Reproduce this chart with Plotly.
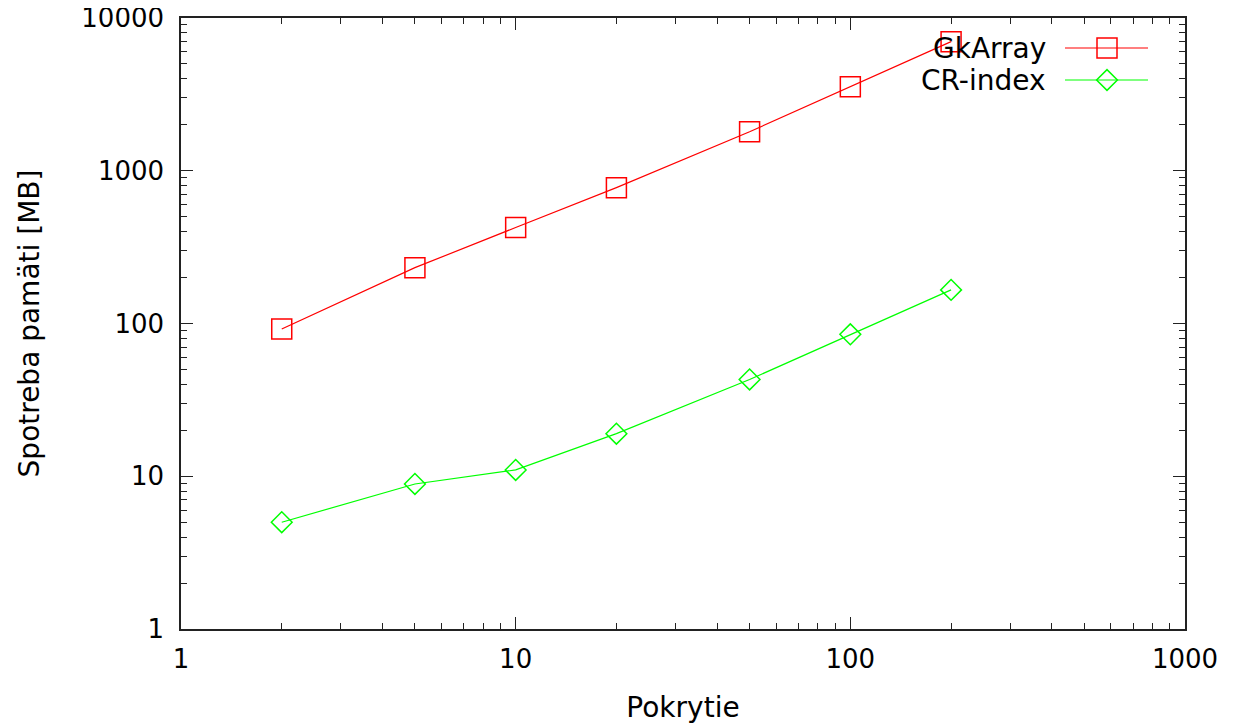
import plotly.graph_objects as go

coverage = [2, 5, 10, 20, 50, 100, 200]
gkarray_mb = [92, 232, 425, 775, 1800, 3550, 7000]
crindex_mb = [5, 8.9, 11, 19, 43, 85, 166]
series_names = ["GkArray", "CR-index"]
x_ticks = [1, 10, 100, 1000]
y_ticks = [1, 10, 100, 1000, 10000]

RED = "#ff0000"
GREEN = "#00ff00"
FONT = "DejaVu Sans"

fig = go.Figure()
fig.add_trace(go.Scatter(
    x=coverage, y=gkarray_mb, mode="lines+markers", name=series_names[0],
    line=dict(color=RED, width=1.2),
    marker=dict(symbol="square-open", size=20, color=RED, line=dict(width=1.5, color=RED)),
    showlegend=False))
fig.add_trace(go.Scatter(
    x=coverage, y=crindex_mb, mode="lines+markers", name=series_names[1],
    line=dict(color=GREEN, width=1.2),
    marker=dict(symbol="diamond-open", size=16, color=GREEN, line=dict(width=1.5, color=GREEN)),
    showlegend=False))

# gnuplot-style key: text on the left, sample on the right (overlay axes in pixel units)
key_rows = [(series_names[0], RED, "square-open", 20, 30), (series_names[1], GREEN, "diamond-open", 16, 62)]
for name, col, sym, sz, ypix in key_rows:
    fig.add_trace(go.Scatter(
        x=[884, 926, 967], y=[ypix, ypix, ypix], xaxis="x2", yaxis="y2",
        mode="lines", line=dict(color=col, width=1.2), showlegend=False, hoverinfo="skip"))
    fig.add_trace(go.Scatter(
        x=[926], y=[ypix], xaxis="x2", yaxis="y2", mode="markers",
        marker=dict(symbol=sym, size=sz, color=col, line=dict(width=1.5, color=col)),
        showlegend=False, hoverinfo="skip"))
    fig.add_annotation(x=867, y=ypix, xref="x2", yref="y2", text=name, showarrow=False,
                       xanchor="right", yanchor="middle", font=dict(family=FONT, size=28, color="black"))

axis_common = dict(
    type="log", ticks="inside", ticklen=12, tickwidth=1.2, tickcolor="#222",
    showline=True, linecolor="#222", linewidth=1.5, mirror="allticks",
    showgrid=False, zeroline=False, ticklabeloverflow="allow",
    tickfont=dict(family=FONT, size=26, color="black"),
    minor=dict(ticks="inside", ticklen=6, tickwidth=1, tickcolor="#222", dtick="D1", showgrid=False),
)

fig.update_layout(
    width=1226, height=716,
    paper_bgcolor="white", plot_bgcolor="white",
    margin=dict(l=173, r=49, t=10, b=95, autoexpand=False),
    xaxis=dict(axis_common, range=[0, 3], tickvals=x_ticks, ticktext=[str(v) for v in x_ticks],
               ticklabelstandoff=6,
               title=dict(text="Pokrytie", font=dict(family=FONT, size=28, color="black"), standoff=38)),
    yaxis=dict(axis_common, range=[0, 4], tickvals=y_ticks, ticktext=[str(v) for v in y_ticks],
               ticklabelstandoff=10,
               title=dict(text="Spotreba pamäti [MB]", font=dict(family=FONT, size=28, color="black"), standoff=34)),
    xaxis2=dict(overlaying="x", range=[0, 1004], visible=False, fixedrange=True),
    yaxis2=dict(overlaying="y", range=[611, 0], visible=False, fixedrange=True),
    showlegend=False,
)

fig.write_html("out.html")
